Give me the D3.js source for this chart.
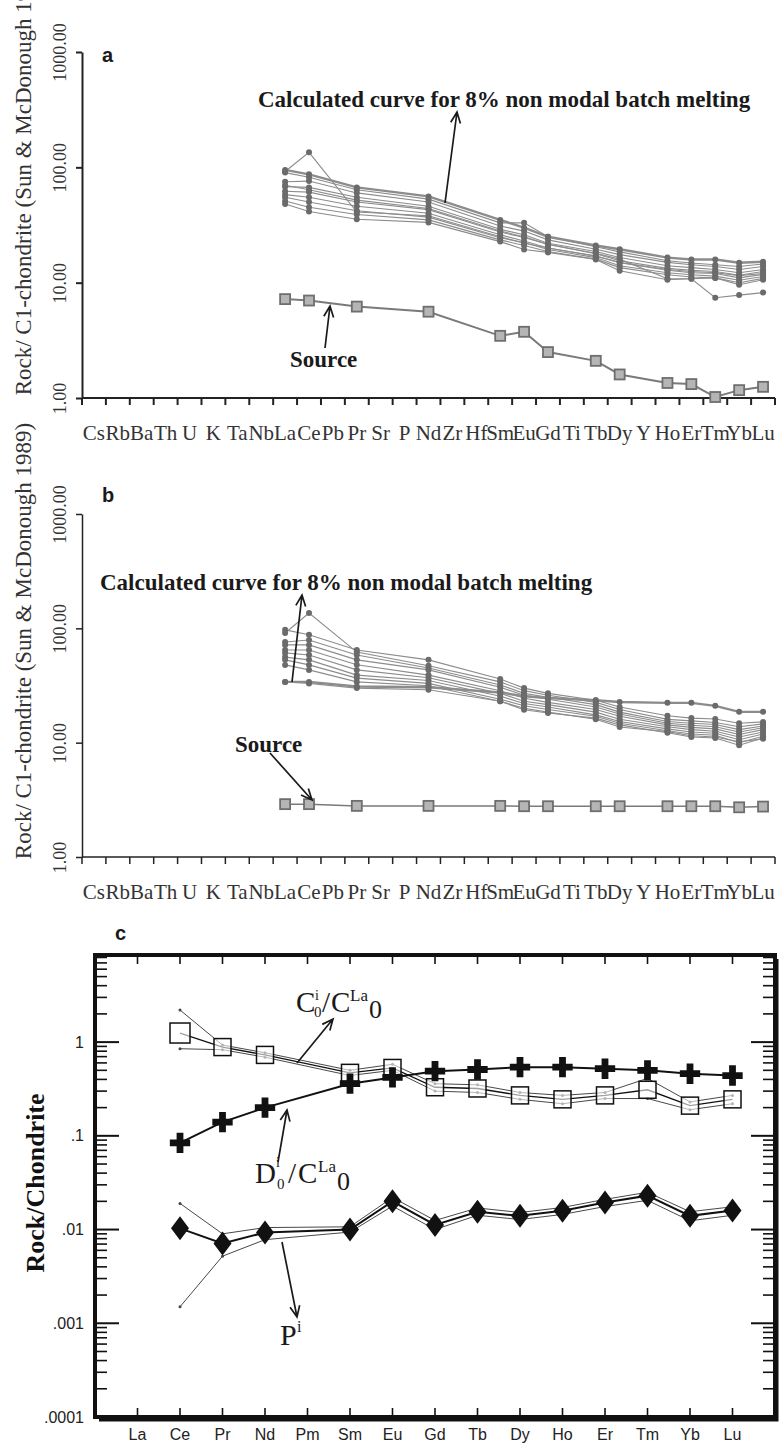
<!DOCTYPE html>
<html>
<head>
<meta charset="utf-8">
<script src="https://cdn.jsdelivr.net/npm/d3@7/dist/d3.min.js"></script>
<style>
body { margin: 0; background: #fff; }
svg { display: block; }
</style>
</head>
<body>
<svg id="chart" width="779" height="1444"></svg>
<script>
// spider diagram categories (panels a and b)
var spiderElems = ["Cs","Rb","Ba","Th","U","K","Ta","Nb","La","Ce","Pb","Pr","Sr","P","Nd","Zr","Hf","Sm","Eu","Gd","Ti","Tb","Dy","Y","Ho","Er","Tm","Yb","Lu"];
var reeElems = ["La","Ce","Pr","Nd","Sm","Eu","Gd","Tb","Dy","Ho","Er","Tm","Yb","Lu"];
var yTicksAB = [1, 10, 100, 1000];

// panel a
var sourceA = [7.2, 7.0, 6.2, 5.6, 3.46, 3.75, 2.5, 2.1, 1.6, 1.35, 1.32, 1.02, 1.17, 1.25];
var meltA = [
  [95, 87, 67, 56, 35, 30, 25, 21, 19.5, 16.5, 15.9, 15.9, 14.9, 15.2],
  [90, 82, 64, 53, 33, 33, 25, 20.5, 18.5, 15.5, 14.8, 14.3, 13.8, 14.5],
  [75, 76, 60, 50, 31, 28, 23.5, 19.5, 17.5, 15, 14.3, 13.8, 13, 13.8],
  [68, 67, 55, 46, 29, 26, 22, 18.6, 16.5, 14, 13.5, 13, 12.2, 13],
  [62, 61, 50, 43, 27.5, 24.6, 21.4, 17.8, 15.5, 13.3, 12.8, 12.5, 11.6, 12.5],
  [58, 55, 46, 40, 26, 23, 20, 17, 14.9, 12.8, 12.2, 12, 11, 11.8],
  [55, 50, 42, 37, 24.5, 22.3, 19.4, 16.5, 14, 12.2, 11.7, 11.4, 10.5, 11.3],
  [51, 45, 39, 35, 23.5, 21, 18.6, 16, 13.5, 11.7, 11.2, 11, 10, 10.9],
  [48, 41.4, 35.5, 33.3, 22.7, 19.4, 18.3, 15.9, 12.7, 10.6, 10.8, 11, 9.6, 10.6],
  [92, 135, 41, 38, 25, 22, 20, 17, 15, 13, 12.5, 12.2, 11.5, 12],
  [70, 64, 52, 44, 28, 25, 21.5, 18, 16, 10.8, 10.8, 7.4, 7.8, 8.2]
];

// panel b
var sourceB = [2.9, 2.9, 2.8, 2.8, 2.8, 2.78, 2.78, 2.78, 2.78, 2.78, 2.78, 2.78, 2.72, 2.76];
var meltB = [
  [97, 88, 64.7, 53, 36, 30, 27, 23.5, 20.5, 17.2, 16.4, 16.1, 14.8, 15.2],
  [91, 136, 62, 47, 34, 28.5, 26, 22.5, 19.5, 16, 15.5, 15, 13.8, 14.6],
  [76, 79, 58.5, 45, 32, 27, 25, 21.5, 18.5, 15.3, 14.8, 14.4, 13, 14],
  [71.6, 71.6, 53, 43.3, 30.5, 26, 24, 20.5, 17.8, 14.8, 14.2, 13.8, 12.4, 13.5],
  [64.7, 64.7, 48, 39, 28.5, 24.5, 22.5, 19.5, 17, 14.3, 13.6, 13.2, 11.8, 13],
  [61, 58.5, 43.3, 37, 27, 23, 21.5, 18.5, 16, 13.8, 13, 12.6, 11.2, 12.4],
  [56, 53, 39, 35, 25.5, 22, 20.5, 17.5, 15.3, 13.2, 12.4, 12.1, 10.6, 11.9],
  [53, 47.9, 36.7, 33, 24, 21, 19.5, 17, 14.8, 12.7, 11.9, 11.6, 10, 11.4],
  [47.9, 43.3, 34, 31.5, 23, 19.4, 18.2, 16.4, 14.3, 12.2, 11.2, 11, 9.5, 11],
  [34, 34, 31, 30.5, 27.5, 25.5, 24.6, 23.5, 22.7, 22.3, 22.3, 21, 18.6, 18.6],
  [34, 33, 30, 29, 23, 20, 18.5, 16, 13.7, 12.5, 11.5, 11.2, 10.2, 10.8]
];

// panel c
var reeC = ["La","Ce","Pr","Nd","Pm","Sm","Eu","Gd","Tb","Dy","Ho","Er","Tm","Yb","Lu"];
var elemC = ["Ce","Pr","Nd","Sm","Eu","Gd","Tb","Dy","Ho","Er","Tm","Yb","Lu"];
var cRatio   = [1.25, 0.885, 0.73, 0.47, 0.53, 0.33, 0.32, 0.27, 0.245, 0.27, 0.31, 0.21, 0.245];
var cRatioHi = [2.2, 0.93, 0.77, 0.5, 0.58, 0.36, 0.35, 0.29, 0.27, 0.29, 0.41, 0.23, 0.27];
var cRatioLo = [0.85, 0.83, 0.69, 0.44, 0.5, 0.3, 0.29, 0.245, 0.22, 0.25, 0.25, 0.19, 0.22];
var dRatio   = [0.084, 0.14, 0.2, 0.36, 0.42, 0.49, 0.51, 0.54, 0.54, 0.52, 0.5, 0.46, 0.44];
var pVal = [0.0103, 0.0071, 0.0093, 0.01, 0.02, 0.0112, 0.0155, 0.014, 0.0159, 0.0194, 0.023, 0.014, 0.016];
var pHi  = [0.019, 0.009, 0.0105, 0.0107, 0.022, 0.0125, 0.017, 0.0152, 0.0172, 0.021, 0.025, 0.0155, 0.0175];
var pLo  = [0.0015, 0.0052, 0.0078, 0.0094, 0.0178, 0.0100, 0.0142, 0.0128, 0.0145, 0.0176, 0.0205, 0.0124, 0.0142];
var yTicksC = [1, 0.1, 0.01, 0.001, 0.0001];
var yTickLabelsC = ["1", ".1", ".01", ".001", ".0001"];

var serif = "'Liberation Serif', 'Times New Roman', serif";
var sans = "'Liberation Sans', Arial, sans-serif";
var narrow = "'Liberation Sans Narrow', 'Arial Narrow', 'Liberation Sans', sans-serif";

var svg = d3.select("#chart");

function arrow(x1, y1, x2, y2) {
  var a = Math.atan2(y2 - y1, x2 - x1), L = 12, s = 0.42;
  svg.append("path")
    .attr("d", "M" + x1 + "," + y1 + "L" + x2 + "," + y2 +
      "M" + (x2 - L * Math.cos(a - s)) + "," + (y2 - L * Math.sin(a - s)) +
      "L" + x2 + "," + y2 +
      "L" + (x2 - L * Math.cos(a + s)) + "," + (y2 - L * Math.sin(a + s)))
    .attr("fill", "none")
    .attr("stroke", "#1a1a1a")
    .attr("stroke-width", 1.7);
}

function label(x, y, txt, size, opts) {
  opts = opts || {};
  return svg.append("text")
    .attr("x", x).attr("y", y)
    .attr("font-family", opts.family || serif)
    .attr("font-size", size)
    .attr("font-weight", opts.bold ? "bold" : "normal")
    .attr("fill", "#1a1a1a")
    .text(txt);
}

function spider(top, bottom, source, melt, axisW, thickLine) {
  var x = d3.scaleBand().domain(spiderElems).range([82, 775]);
  var y = d3.scaleLog().domain([1, 1000]).range([bottom, top]);
  var g = svg.append("g");
  var cx = function(d, i) { return x(reeElems[i]) + x.bandwidth() / 2; };

  // y axis
  var ya = g.append("g").attr("transform", "translate(82,0)")
    .call(d3.axisLeft(y).tickValues(yTicksAB).tickFormat(d3.format(".2f")).tickSize(6).tickSizeOuter(0));
  ya.select(".domain").attr("stroke", "#222").attr("stroke-width", axisW);
  ya.selectAll(".tick line").attr("stroke", "#222").attr("stroke-width", axisW);
  ya.selectAll(".tick text")
    .attr("transform", "rotate(-90)")
    .attr("x", 0).attr("y", -16).attr("dy", 0)
    .style("text-anchor", "middle")
    .attr("fill", "#333")
    .attr("font-family", serif).attr("font-size", 18);

  // x axis line with boundary ticks
  g.append("line").attr("x1", 82).attr("x2", 775).attr("y1", bottom).attr("y2", bottom)
    .attr("stroke", "#222").attr("stroke-width", axisW);
  g.selectAll(".btick").data(spiderElems.concat(["end"])).enter().append("line")
    .attr("x1", function(d) { return d == "end" ? x.range()[1] : x(d); })
    .attr("x2", function(d) { return d == "end" ? x.range()[1] : x(d); })
    .attr("y1", bottom).attr("y2", bottom + 7)
    .attr("stroke", "#222").attr("stroke-width", axisW);
  var xa = g.append("g").attr("transform", "translate(0," + bottom + ")")
    .call(d3.axisBottom(x).tickSize(0).tickPadding(27));
  xa.select(".domain").remove();
  xa.selectAll("text").attr("font-family", serif).attr("font-size", 21).attr("fill", "#333");

  var line = d3.line().x(cx).y(function(d) { return y(d); });

  // calculated melting curves
  melt.forEach(function(s, k) {
    g.append("path").datum(s).attr("d", line)
      .attr("fill", "none").attr("stroke", "#8c8c8c")
      .attr("stroke-width", k == thickLine ? 2.4 : 1.1);
  });
  melt.forEach(function(s) {
    g.selectAll(null).data(s).enter().append("circle")
      .attr("cx", cx).attr("cy", function(d) { return y(d); })
      .attr("r", 3).attr("fill", "#6b6b6b");
  });

  // source
  g.append("path").datum(source).attr("d", line)
    .attr("fill", "none").attr("stroke", "#7a7a7a").attr("stroke-width", axisW);
  g.selectAll(null).data(source).enter().append("rect")
    .attr("x", function(d, i) { return cx(d, i) - 5; })
    .attr("y", function(d) { return y(d) - 5; })
    .attr("width", 10).attr("height", 10)
    .attr("fill", "#b5b5b5").attr("stroke", "#6e6e6e").attr("stroke-width", 1.8);
}

// ---- panel a
spider(52, 398, sourceA, meltA, 2, 0);
label(102, 62, "a", 20, {family: sans, bold: true});
svg.append("text").attr("transform", "translate(31,181) rotate(-90)")
  .attr("text-anchor", "middle").attr("font-family", serif).attr("font-size", 23).attr("fill", "#333")
  .text("Rock/ C1-chondrite (Sun & McDonough 1989");
label(258, 107, "Calculated  curve for 8% non modal batch melting", 23, {bold: true});
arrow(445, 203, 457, 112);
label(290, 367, "Source", 23, {bold: true});
arrow(325, 348, 330, 306);

// ---- panel b
spider(514, 857, sourceB, meltB, 1.5, 9);
label(102, 502, "b", 20, {family: sans, bold: true});
svg.append("text").attr("transform", "translate(31,641) rotate(-90)")
  .attr("text-anchor", "middle").attr("font-family", serif).attr("font-size", 23).attr("fill", "#333")
  .text("Rock/ C1-chondrite (Sun & McDonough 1989)");
label(100, 590, "Calculated curve for 8% non modal batch melting", 23, {bold: true});
arrow(292, 682, 302, 595);
label(235, 752, "Source", 23, {bold: true});
arrow(270, 753, 312, 800);

// ---- panel c
var xc = d3.scalePoint().domain(reeC).range([95, 775]).padding(1);
var yc = d3.scaleLog().domain([0.0001, 8.5]).range([1417, 955]);
var gc = svg.append("g");

// minor and major ticks, both sides
yc.ticks().forEach(function(v) {
  var major = Math.abs(Math.log10(v) - Math.round(Math.log10(v))) < 1e-6;
  var len = major ? 24 : 12;
  gc.append("line").attr("x1", 95).attr("x2", 95 + len).attr("y1", yc(v)).attr("y2", yc(v))
    .attr("stroke", "#111").attr("stroke-width", major ? 2 : 1.6);
  gc.append("line").attr("x1", 775).attr("x2", 775 - len).attr("y1", yc(v)).attr("y2", yc(v))
    .attr("stroke", "#111").attr("stroke-width", major ? 2 : 1.6);
});
reeC.forEach(function(e) {
  gc.append("line").attr("x1", xc(e)).attr("x2", xc(e)).attr("y1", 955).attr("y2", 964)
    .attr("stroke", "#111").attr("stroke-width", 1.6);
  gc.append("line").attr("x1", xc(e)).attr("x2", xc(e)).attr("y1", 1417).attr("y2", 1408)
    .attr("stroke", "#111").attr("stroke-width", 1.6);
});
gc.append("rect").attr("x", 95).attr("y", 955).attr("width", 680).attr("height", 462)
  .attr("fill", "none").attr("stroke", "#111").attr("stroke-width", 4);
gc.append("path").attr("d", "M777,959V1420H99").attr("fill", "none").attr("stroke", "#111").attr("stroke-width", 3);

yTicksC.forEach(function(v, i) {
  gc.append("text").attr("x", 84).attr("y", yc(v)).attr("dy", "0.35em")
    .attr("text-anchor", "end").attr("font-family", narrow).attr("font-size", 16).attr("fill", "#222")
    .text(yTickLabelsC[i]);
});
reeC.forEach(function(e) {
  gc.append("text").attr("x", xc(e)).attr("y", 1440).attr("text-anchor", "middle")
    .attr("font-family", narrow).attr("font-size", 16).attr("fill", "#222").text(e);
});

var lineC = d3.line().x(function(d, i) { return xc(elemC[i]); }).y(function(d) { return yc(d); });

[cRatioHi, cRatioLo, pHi, pLo].forEach(function(s) {
  gc.append("path").datum(s).attr("d", lineC).attr("fill", "none").attr("stroke", "#333").attr("stroke-width", 0.9);
  gc.selectAll(null).data(s).enter().append("circle")
    .attr("cx", function(d, i) { return xc(elemC[i]); }).attr("cy", function(d) { return yc(d); })
    .attr("r", 1.5).attr("fill", "#444");
});
gc.append("path").datum(cRatio).attr("d", lineC).attr("fill", "none").attr("stroke", "#111").attr("stroke-width", 1.3);
gc.append("path").datum(dRatio).attr("d", lineC).attr("fill", "none").attr("stroke", "#111").attr("stroke-width", 2);
gc.append("path").datum(pVal).attr("d", lineC).attr("fill", "none").attr("stroke", "#111").attr("stroke-width", 2);

gc.selectAll(null).data(cRatio).enter().append("rect")
  .attr("x", function(d, i) { var s = i == 0 ? 20 : 17; return xc(elemC[i]) - s / 2; })
  .attr("y", function(d, i) { var s = i == 0 ? 20 : 17; return yc(d) - s / 2; })
  .attr("width", function(d, i) { return i == 0 ? 20 : 17; })
  .attr("height", function(d, i) { return i == 0 ? 20 : 17; })
  .attr("fill", "#fff").attr("fill-opacity", 0.6).attr("stroke", "#111").attr("stroke-width", 1.5);
gc.selectAll(null).data(dRatio).enter().append("path")
  .attr("transform", function(d, i) { return "translate(" + xc(elemC[i]) + "," + yc(d) + ")"; })
  .attr("d", d3.symbol(d3.symbolCross, 230))
  .attr("fill", "#111");
gc.selectAll(null).data(pVal).enter().append("path")
  .attr("transform", function(d, i) { return "translate(" + xc(elemC[i]) + "," + yc(d) + ")"; })
  .attr("d", "M0,-12L9,0L0,12L-9,0Z")
  .attr("fill", "#111");

label(115, 940, "c", 20, {family: sans, bold: true});
svg.append("text").attr("transform", "translate(44,1183) rotate(-90)")
  .attr("text-anchor", "middle").attr("font-family", serif).attr("font-size", 26)
  .attr("font-weight", "bold").attr("fill", "#111").text("Rock/Chondrite");

// C i0 / C La0
label(296, 1012, "C", 29);
label(315, 1000, "i", 14);
label(314, 1017, "0", 15);
label(322, 1012, "/", 29);
label(331, 1012, "C", 29);
label(350, 1001, "La", 17);
label(369, 1018, "0", 26);
arrow(297, 1063, 333, 1019);

// D i0 / C La0
label(255, 1183, "D", 29);
label(276, 1167, "i", 14);
label(277, 1189, "0", 15);
label(288, 1183, "/", 29);
label(298, 1183, "C", 29);
label(318, 1172, "La", 17);
label(337, 1190, "0", 26);
arrow(278, 1162, 287, 1110);

// P i
label(280, 1345, "P", 30);
label(297, 1332, "i", 16);
arrow(282, 1242, 297, 1317);
</script>
</body>
</html>
